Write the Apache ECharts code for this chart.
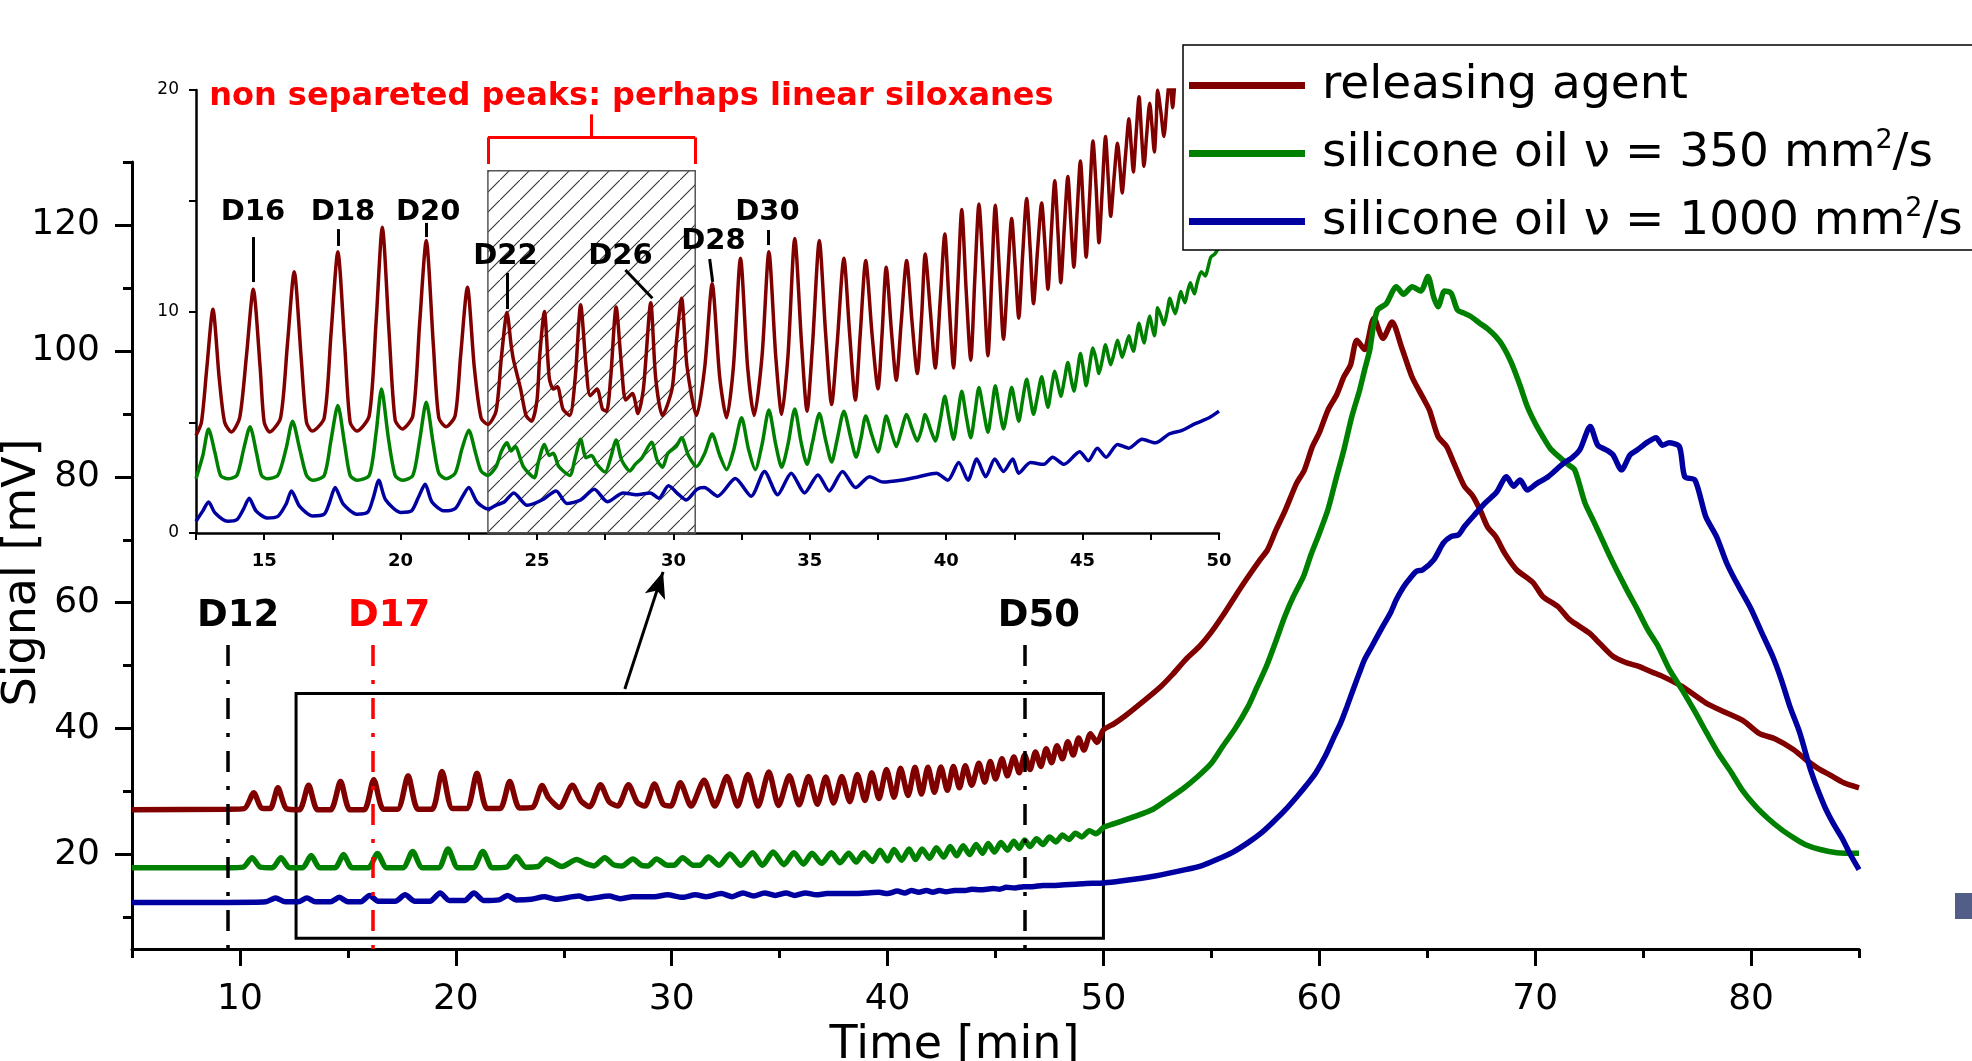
<!DOCTYPE html>
<html><head><meta charset="utf-8">
<script src="https://cdn.jsdelivr.net/npm/echarts@6/dist/echarts.min.js"></script>
<style>html,body{margin:0;padding:0;background:#fff;overflow:hidden}#c{width:1972px;height:1061px}</style>
</head><body><div id="c"></div>
<script>
// ---------------- data ----------------
const seriesNames = ['releasing agent', 'silicone oil ν = 350 mm²/s', 'silicone oil ν = 1000 mm²/s'];
const seriesColors = ['#800000', '#008000', '#0000a0'];

const mainXMajor = [10, 20, 30, 40, 50, 60, 70, 80];
const mainXMinor = [5, 15, 25, 35, 45, 55, 65, 75, 85];
const mainYMajor = [20, 40, 60, 80, 100, 120];
const mainYMinor = [10, 30, 50, 70, 90, 110, 130];
const insetXTicks = [12.5, 15, 17.5, 20, 22.5, 25, 27.5, 30, 32.5, 35, 37.5, 40, 42.5, 45, 47.5, 50];
const insetXLabels = [15, 20, 25, 30, 35, 40, 45, 50];
const insetYTicks = [0, 5, 10, 15, 20];
const insetYLabels = [0, 10, 20];

const mainRed = [[5,27.1],[9.4,27.2],[10.2,27.3],[10.64,29.8],[11.0,27.4],[11.4,27.3],[11.76,30.6],[12.15,27.3],[12.75,27.1],[13.18,31.0],[13.6,27.1],[14.2,27.1],[14.66,31.6],[15.1,27.1],[15.75,27.1],[16.2,31.9],[16.65,27.2],[17.3,27.2],[17.79,32.5],[18.25,27.2],[18.9,27.2],[19.36,33.2],[19.85,27.3],[20.5,27.3],[20.98,32.9],[21.45,27.3],[22.05,27.3],[22.5,31.6],[22.95,27.4],[23.55,27.5],[24.0,30.95],[24.3,29.0],[24.8,27.5],[25.4,31.0],[25.8,28.5],[26.2,27.6],[26.7,31.1],[27.1,28.4],[27.5,27.7],[28.0,31.1],[28.4,28.3],[28.75,27.7],[29.2,31.2],[29.6,28.0],[29.95,27.7],[30.4,31.4],[30.9,27.7],[31.5,31.8],[32.0,27.7],[32.56,32.4],[33.05,27.7],[33.53,32.7],[34.0,27.7],[34.5,33.1],[34.95,27.8],[35.45,32.5],[35.9,27.9],[36.34,32.4],[36.75,28.0],[37.14,32.3],[37.5,28.2],[37.88,32.4],[38.25,28.4],[38.6,32.7],[38.95,28.6],[39.27,33.0],[39.6,28.9],[39.95,33.5],[40.3,29.1],[40.6,33.7],[40.95,29.4],[41.27,33.86],[41.57,29.6],[41.87,33.86],[42.17,29.9],[42.47,33.9],[42.77,30.2],[43.05,34.0],[43.33,30.6],[43.6,34.1],[43.9,31.0],[44.23,34.5],[44.5,31.5],[44.76,34.8],[45.0,32.0],[45.3,35.2],[45.55,32.5],[45.85,35.5],[46.1,33.0],[46.35,35.8],[46.6,33.5],[46.85,36.3],[47.1,34.0],[47.35,36.8],[47.6,34.6],[47.85,37.3],[48.1,35.2],[48.35,37.9],[48.6,35.8],[48.85,38.5],[49.1,36.6],[49.4,39.2],[49.7,37.8],[50.0,39.8],
 [50.5,40.8],[51.0,42.0],[51.8,44.2],[52.66,46.7],[53.2,48.6],[53.82,51.0],[54.46,53.1],[54.97,55.2],[55.5,57.8],[56.1,61.0],[56.6,63.6],[57.25,66.8],[57.6,68.4],[58.0,71.6],[58.4,74.5],[58.95,79.0],[59.3,81.0],[59.68,84.8],[60.0,87.0],[60.4,90.6],[60.8,93.0],[61.14,95.9],[61.45,97.8],[61.74,101.7],[62.1,100.2],[62.53,105.2],[62.95,102.0],[63.37,104.6],[63.8,100.7],[64.29,95.9],[64.78,92.7],[65.1,90.6],[65.5,86.4],[65.9,84.8],[66.23,82.2],[66.72,78.5],[67.1,77.0],[67.44,74.8],[67.8,72.0],[68.17,70.5],[68.6,67.8],[69.15,65.2],[69.9,63.2],[70.35,61.0],[71.05,59.4],[71.6,57.3],[72.5,55.2],[73.0,53.5],[73.6,51.5],[74.2,50.5],[74.8,49.9],[75.4,49.0],[75.9,48.3],[76.8,46.7],[77.9,44.1],[78.8,42.6],[79.66,41.2],[80.4,39.2],[81.1,38.4],[81.96,36.7],[82.53,35.1],[83.1,33.7],[83.68,32.6],[84.3,31.4],[85,30.6]];

const mainGreen = [[5,17.9],[9.4,17.9],[10.15,18.0],[10.56,19.5],[10.95,18.0],[11.5,17.9],[11.9,19.5],[12.3,17.9],[12.9,17.9],[13.3,19.84],[13.7,17.9],[14.4,17.9],[14.8,20.0],[15.2,17.9],[15.95,17.9],[16.37,20.16],[16.8,17.9],[17.55,17.9],[18.0,20.5],[18.45,17.9],[19.2,17.9],[19.64,20.9],[20.1,17.9],[20.8,17.9],[21.25,20.5],[21.7,17.9],[22.35,18.0],[22.8,19.7],[23.25,18.0],[23.8,18.1],[24.2,19.3],[24.5,18.8],[24.9,18.1],[25.6,19.2],[26.0,18.6],[26.4,18.2],[26.9,19.5],[27.3,18.4],[27.7,18.2],[28.2,19.3],[28.6,18.3],[28.9,18.2],[29.3,19.3],[29.8,18.3],[30.1,18.3],[30.5,19.5],[31.0,18.3],[31.3,18.3],[31.7,19.6],[32.2,18.3],[32.7,20.1],[33.2,18.3],[33.75,20.3],[34.2,18.3],[34.7,20.4],[35.2,18.4],[35.66,20.3],[36.1,18.5],[36.5,20.2],[36.95,18.6],[37.4,20.3],[37.8,18.7],[38.2,20.2],[38.55,18.8],[38.9,20.3],[39.3,18.9],[39.65,20.7],[40.0,19.0],[40.3,20.8],[40.65,19.1],[41.0,20.9],[41.3,19.2],[41.6,20.9],[41.95,19.4],[42.26,21.1],[42.6,19.6],[42.9,21.3],[43.2,19.8],[43.5,21.4],[43.8,20.0],[44.1,21.6],[44.4,20.2],[44.66,21.75],[44.95,20.4],[45.25,21.9],[45.55,20.7],[45.85,22.1],[46.1,21.0],[46.35,22.3],[46.6,21.3],[46.9,22.5],[47.2,21.6],[47.5,22.8],[47.8,22.0],[48.1,23.1],[48.4,22.4],[48.7,23.4],[49.0,22.8],[49.35,23.8],[49.65,23.3],[50.0,24.3],
 [50.5,24.9],[51.5,26.1],[52.3,27.2],[52.95,28.7],[53.7,30.5],[54.37,32.4],[55.0,34.5],[55.53,37.2],[56.1,40.0],[56.7,43.5],[57.1,46.5],[57.55,49.9],[58.0,54.0],[58.4,57.8],[58.8,61.0],[59.27,64.2],[59.6,67.5],[60.0,71.0],[60.4,74.8],[60.8,80.0],[61.14,84.3],[61.5,89.5],[61.87,93.8],[62.1,97.0],[62.34,100.2],[62.5,103.8],[62.7,106.5],[63.1,107.5],[63.57,110.2],[63.9,109.0],[64.3,110.2],[64.7,109.5],[65.03,111.8],[65.3,108.5],[65.5,107.0],[65.8,109.5],[66.1,109.2],[66.4,106.5],[66.7,106.0],[67.0,105.5],[67.43,104.4],[67.8,103.5],[68.17,102.3],[68.5,100.8],[68.9,98.1],[69.3,94.5],[69.63,91.2],[70.0,88.5],[70.35,86.4],[70.7,84.5],[71.1,83.2],[71.5,82.0],[71.83,81.1],[72.3,75.9],[72.7,73.0],[73.04,70.5],[73.4,67.8],[73.77,65.2],[74.25,62.0],[74.74,58.9],[75.2,55.8],[75.7,53.05],[76.2,49.5],[76.8,46.2],[77.4,42.7],[77.93,39.4],[78.5,36.0],[79.09,33.0],[79.6,30.2],[80.2,27.7],[80.8,25.7],[81.4,24.0],[82.0,22.6],[82.5,21.6],[83.2,20.8],[83.97,20.3],[85,20.2]];

const mainBlue = [[5,12.4],[9.4,12.4],[11.2,12.5],[11.65,13.1],[12.1,12.5],[12.7,12.5],[13.1,13.1],[13.5,12.5],[14.2,12.5],[14.6,13.2],[15.0,12.5],[15.6,12.5],[16.0,13.5],[16.4,12.6],[17.2,12.6],[17.65,13.6],[18.1,12.6],[18.8,12.6],[19.27,13.9],[19.7,12.7],[20.4,12.7],[20.84,13.9],[21.3,12.7],[22.0,12.8],[22.4,13.5],[22.8,12.8],[23.5,12.9],[24.1,13.3],[24.6,12.9],[25.7,13.4],[26.1,13.0],[27.1,13.4],[27.6,13.0],[28.2,13.3],[29.2,13.3],[29.8,13.6],[30.5,13.2],[31.1,13.6],[31.6,13.3],[32.3,13.8],[32.8,13.3],[33.3,13.9],[33.8,13.4],[34.3,13.9],[34.8,13.5],[35.3,13.9],[35.7,13.5],[36.2,13.9],[36.7,13.6],[37.2,13.8],[38.3,13.8],[39.0,13.9],[39.6,14.0],[40.0,13.8],[40.45,14.2],[40.8,13.9],[41.1,14.3],[41.45,14.0],[41.8,14.3],[42.1,14.0],[42.4,14.3],[42.7,14.1],[43.1,14.3],[43.6,14.3],[43.9,14.5],[44.3,14.4],[44.9,14.6],[45.2,14.5],[45.5,14.8],[45.9,14.7],[46.3,14.9],[46.7,14.9],[47.2,15.1],[47.7,15.1],[48.2,15.2],[48.7,15.3],[49.2,15.4],[50,15.5],
 [50.8,15.8],[52.4,16.6],[53.8,17.6],[54.6,18.3],[55.25,19.2],[56.0,20.4],[56.7,21.9],[57.3,23.4],[57.84,25.1],[58.4,27.0],[58.99,29.3],[59.4,31.0],[59.84,33.0],[60.3,35.8],[60.7,38.8],[61.0,41.0],[61.28,43.5],[61.6,46.5],[61.86,48.9],[62.1,51.0],[62.43,53.05],[62.9,56.0],[63.3,58.4],[63.57,60.5],[63.9,62.5],[64.15,63.65],[64.5,65.0],[64.78,65.2],[65.3,66.8],[65.75,69.5],[66.1,70.5],[66.45,70.8],[66.72,72.1],[67.2,74.0],[67.7,75.9],[68.2,77.5],[68.67,80.0],[69.0,78.5],[69.3,79.5],[69.63,77.9],[70.1,79.0],[70.6,80.0],[71.0,81.2],[71.33,82.2],[71.7,83.0],[72.07,84.3],[72.55,88.0],[72.9,85.0],[73.28,84.3],[73.6,83.5],[74.0,81.1],[74.4,83.5],[74.74,84.3],[75.2,85.5],[75.6,86.2],[75.9,85.0],[76.2,85.4],[76.68,84.8],[76.93,80.0],[77.4,79.5],[77.9,73.7],[78.4,70.5],[78.87,66.3],[79.2,64.0],[79.6,61.5],[80.0,59.0],[80.5,55.2],[81.0,51.5],[81.4,47.8],[81.8,43.5],[82.25,39.4],[82.8,33.0],[83.4,27.7],[83.8,25.0],[84.25,22.4],[84.6,20.0],[85,17.6]];

const insetRed = [[12.5,4.4],[12.7,5.0],[12.9,7.5],[13.12,10.1],[13.35,7.0],[13.55,5.0],[13.8,4.56],[14.1,5.2],[14.35,8.0],[14.6,11.0],[14.85,7.5],[15.0,5.0],[15.2,4.56],[15.6,5.2],[15.85,8.5],[16.1,11.8],[16.35,8.0],[16.55,5.0],[16.76,4.6],[17.2,5.2],[17.45,9.0],[17.7,12.7],[17.95,8.5],[18.15,5.0],[18.4,4.6],[18.85,5.3],[19.1,9.5],[19.33,13.8],[19.58,9.0],[19.8,5.1],[20.06,4.7],[20.45,5.3],[20.7,9.5],[20.94,13.2],[21.2,8.5],[21.4,5.2],[21.67,4.8],[22.0,5.3],[22.2,8.0],[22.45,11.1],[22.7,7.5],[22.95,5.2],[23.2,4.9],[23.5,5.5],[23.7,8.0],[23.9,9.95],[24.05,8.5],[24.14,7.8],[24.4,6.5],[24.6,5.3],[24.8,5.05],[25.0,6.0],[25.1,8.0],[25.27,10.0],[25.45,7.0],[25.6,6.5],[25.75,6.6],[25.95,5.6],[26.2,5.3],[26.4,7.0],[26.6,10.3],[26.8,7.5],[26.95,6.2],[27.2,6.5],[27.4,5.6],[27.55,5.5],[27.7,7.0],[27.9,10.2],[28.1,7.5],[28.25,6.0],[28.5,6.3],[28.7,5.4],[28.9,6.5],[29.17,10.4],[29.35,7.0],[29.6,5.3],[29.95,6.5],[30.1,8.5],[30.3,10.6],[30.5,7.5],[30.85,5.3],[31.15,7.5],[31.42,11.25],[31.7,7.0],[31.95,5.2],[32.2,7.5],[32.46,12.4],[32.72,7.5],[32.96,5.3],[33.25,8.0],[33.5,12.7],[33.75,8.0],[33.97,5.35],[34.2,8.0],[34.45,13.3],[34.7,8.5],[34.9,5.5],[35.1,8.5],[35.35,13.2],[35.58,9.0],[35.8,5.8],[36.0,8.5],[36.25,12.4],[36.46,9.0],[36.67,6.0],[36.85,9.0],[37.05,12.3],[37.28,9.0],[37.5,6.5],[37.65,9.0],[37.8,12.0],[38.0,9.0],[38.17,6.9],[38.35,9.5],[38.55,12.3],[38.75,9.5],[38.94,7.2],[39.1,9.8],[39.23,12.6],[39.42,10.0],[39.6,7.45],[39.78,10.5],[39.95,13.5],[40.1,10.5],[40.27,7.45],[40.42,11.0],[40.57,14.6],[40.73,11.0],[40.9,7.8],[41.05,11.5],[41.2,14.85],[41.37,11.5],[41.53,8.0],[41.67,11.5],[41.8,14.8],[41.95,11.8],[42.1,8.75],[42.25,11.5],[42.4,14.2],[42.53,12.0],[42.66,9.7],[42.8,12.5],[42.95,15.1],[43.08,12.8],[43.2,10.35],[43.35,12.8],[43.5,14.9],[43.62,13.0],[43.73,11.0],[43.85,13.5],[43.98,15.9],[44.1,13.5],[44.2,11.3],[44.33,13.8],[44.46,16.1],[44.57,14.0],[44.68,12.0],[44.8,14.5],[44.92,16.8],[45.03,14.6],[45.13,12.45],[45.25,15.0],[45.38,17.7],[45.5,15.5],[45.6,13.1],[45.72,15.5],[45.84,17.9],[45.94,16.0],[46.03,14.3],[46.15,16.0],[46.28,17.6],[46.37,16.5],[46.45,15.35],[46.57,17.0],[46.7,18.7],[46.78,17.5],[46.86,16.3],[46.96,18.0],[47.07,19.7],[47.16,18.0],[47.25,16.55],[47.35,18.0],[47.46,19.4],[47.55,18.3],[47.63,17.2],[47.7,18.6],[47.75,20.0],[47.87,19.0],[47.98,17.9],[48.1,19.5],[48.2,20.6],[48.3,19.2],[48.4,20.5],[48.6,21.5],[49.0,22.5]];

const insetGreen = [[12.5,2.45],[12.75,3.5],[12.96,4.7],[13.2,3.6],[13.4,2.6],[13.66,2.45],[14.0,2.6],[14.25,3.8],[14.48,4.8],[14.72,3.6],[14.9,2.6],[15.1,2.45],[15.5,2.6],[15.8,3.8],[16.04,5.05],[16.3,3.8],[16.55,2.6],[16.78,2.38],[17.2,2.6],[17.45,4.2],[17.7,5.76],[17.95,4.0],[18.15,2.6],[18.4,2.38],[18.85,2.6],[19.1,4.5],[19.3,6.5],[19.55,4.3],[19.8,2.6],[20.06,2.38],[20.45,2.6],[20.7,4.2],[20.94,5.9],[21.2,4.0],[21.4,2.7],[21.67,2.45],[22.0,2.7],[22.25,3.8],[22.5,4.64],[22.75,3.6],[22.95,2.8],[23.2,2.6],[23.5,3.0],[23.7,3.7],[23.9,4.07],[24.05,3.7],[24.2,3.9],[24.5,3.0],[24.9,2.5],[25.05,3.2],[25.27,4.0],[25.45,3.5],[25.6,3.6],[25.8,3.0],[26.2,2.6],[26.4,3.4],[26.6,4.23],[26.8,3.4],[27.0,3.5],[27.2,3.1],[27.5,2.75],[27.7,3.4],[27.9,4.2],[28.1,3.3],[28.4,2.8],[28.6,3.1],[28.85,3.4],[29.2,4.1],[29.4,3.3],[29.6,2.97],[29.8,3.6],[30.1,3.9],[30.3,4.3],[30.55,3.5],[30.85,3.0],[31.15,3.6],[31.42,4.47],[31.7,3.5],[31.95,2.86],[32.2,3.7],[32.5,5.2],[32.75,3.8],[33.0,2.86],[33.25,4.0],[33.5,5.55],[33.75,4.0],[33.97,2.97],[34.2,4.0],[34.45,5.6],[34.68,4.1],[34.9,3.1],[35.1,4.1],[35.35,5.4],[35.58,4.2],[35.8,3.2],[36.0,4.2],[36.25,5.5],[36.5,4.3],[36.7,3.43],[36.88,4.3],[37.05,5.28],[37.28,4.4],[37.5,3.66],[37.65,4.4],[37.8,5.28],[38.0,4.5],[38.17,3.9],[38.35,4.6],[38.55,5.35],[38.75,4.7],[38.94,4.15],[39.1,4.7],[39.23,5.35],[39.42,4.7],[39.6,4.15],[39.78,5.1],[39.95,6.17],[40.1,5.2],[40.27,4.23],[40.42,5.3],[40.57,6.4],[40.73,5.3],[40.9,4.3],[41.05,5.4],[41.2,6.57],[41.37,5.5],[41.53,4.55],[41.67,5.6],[41.8,6.65],[41.95,5.6],[42.1,4.7],[42.25,5.6],[42.4,6.57],[42.53,5.8],[42.66,5.05],[42.8,6.0],[42.95,6.94],[43.08,6.1],[43.2,5.36],[43.35,6.2],[43.5,7.05],[43.62,6.3],[43.73,5.68],[43.85,6.5],[43.98,7.3],[44.1,6.7],[44.2,6.17],[44.33,6.9],[44.46,7.7],[44.57,7.0],[44.68,6.4],[44.8,7.2],[44.92,8.1],[45.03,7.4],[45.13,6.65],[45.25,7.5],[45.38,8.35],[45.5,7.8],[45.6,7.2],[45.72,7.8],[45.84,8.5],[45.94,8.0],[46.03,7.6],[46.15,8.1],[46.28,8.7],[46.37,8.3],[46.45,7.94],[46.57,8.4],[46.7,8.9],[46.78,8.5],[46.86,8.2],[46.96,8.8],[47.07,9.47],[47.16,9.0],[47.25,8.58],[47.35,9.2],[47.46,9.8],[47.55,9.3],[47.63,8.9],[47.7,9.5],[47.75,10.17],[47.87,9.8],[47.98,9.4],[48.1,10.0],[48.2,10.6],[48.3,10.2],[48.4,9.9],[48.5,10.4],[48.6,10.9],[48.68,10.6],[48.75,10.4],[48.85,10.9],[48.95,11.3],[49.03,11.0],[49.1,10.8],[49.2,11.3],[49.35,11.8],[49.43,11.7],[49.5,11.6],[49.6,12.0],[49.7,12.45],[49.85,12.6],[49.97,12.85]];

const insetBlue = [[12.5,0.53],[12.75,1.0],[12.96,1.4],[13.2,0.9],[13.66,0.53],[14.0,0.6],[14.25,1.1],[14.45,1.57],[14.7,1.0],[15.1,0.68],[15.5,0.75],[15.8,1.3],[16.0,1.9],[16.3,1.2],[16.78,0.77],[17.2,0.85],[17.4,1.4],[17.6,2.05],[17.9,1.3],[18.4,0.85],[18.8,0.95],[19.0,1.6],[19.2,2.38],[19.45,1.5],[20.0,0.93],[20.4,1.0],[20.65,1.6],[20.9,2.2],[21.15,1.4],[21.6,1.0],[22.0,1.1],[22.25,1.6],[22.5,2.05],[22.8,1.4],[23.2,1.08],[23.49,1.25],[23.8,1.4],[24.15,1.81],[24.64,1.25],[25.2,1.5],[25.7,1.9],[26.1,1.33],[26.6,1.49],[27.1,1.97],[27.58,1.41],[28.16,1.81],[28.65,1.73],[29.15,1.81],[29.47,1.57],[29.82,2.13],[30.2,1.73],[30.47,1.49],[30.86,1.97],[31.13,2.05],[31.62,1.66],[32.27,2.46],[32.85,1.66],[33.34,2.78],[33.82,1.73],[34.32,2.7],[34.81,1.81],[35.3,2.62],[35.71,1.9],[36.2,2.78],[36.68,2.05],[37.19,2.54],[37.68,2.3],[38.33,2.38],[38.99,2.54],[39.64,2.7],[40.06,2.38],[40.46,3.18],[40.8,2.38],[41.12,3.34],[41.45,2.54],[41.78,3.34],[42.1,2.78],[42.44,3.34],[42.66,2.7],[43.09,3.18],[43.58,3.1],[43.9,3.42],[44.32,3.1],[44.89,3.67],[45.21,3.26],[45.54,3.83],[45.86,3.42],[46.28,4.0],[46.69,3.83],[47.18,4.23],[47.67,4.07],[48.17,4.47],[48.65,4.63],[49.15,4.95],[49.64,5.2],[50.0,5.5]];

// homologue markers on the main chart (retention time, minutes)
const mainMarkers = [
  { name: 'D12', x: 9.45, color: '#000000', dx: 10 },
  { name: 'D17', x: 16.17, color: '#ff0000', dx: 16 },
  { name: 'D50', x: 46.36, color: '#000000', dx: 14 }
];
// peak labels in the inset: label anchor and leader line ends (inset coordinates)
const insetTags = [
  { name: 'D16', at: [14.59, 14.45], from: [14.6, 13.36], to: [14.6, 11.33] },
  { name: 'D18', at: [17.89, 14.45], from: [17.71, 13.72], to: [17.71, 12.96] },
  { name: 'D20', at: [21.01, 14.45], from: [20.94, 14.0], to: [20.94, 13.36] },
  { name: 'D22', at: [23.84, 12.5], from: [23.91, 11.74], to: [23.91, 10.11] },
  { name: 'D26', at: [28.06, 12.5], from: [28.24, 11.87], to: [29.23, 10.6] },
  { name: 'D28', at: [31.47, 13.18], from: [31.33, 12.37], to: [31.44, 11.33] },
  { name: 'D30', at: [33.45, 14.45], from: [33.49, 13.68], to: [33.49, 13.0] },
  { name: 'D50', at: [46.11, 20.86], from: [46.04, 20.1], to: [46.28, 17.6] }
];
const hatchRange = { x0: 23.2, x1: 30.8, y0: 0, y1: 16.36 };
const bracket = { x0: 23.2, x1: 30.8, yLow: 16.66, y: 17.86, yTop: 18.9 };
const caption = { text: 'non separeted peaks: perhaps linear siloxanes', at: [28.46, 19.68] };
const zoomBox = { x0: 12.6, y0: 6.7, x1: 50, y1: 45.6 };
const arrow = { from: [27.83, 46.3], to: [29.6, 64.9] };

// ---------------- chart ----------------
const FONT = 'DejaVu Sans';
const hatch = document.createElement('canvas');
hatch.width = 20; hatch.height = 20;
(function () {
  const g = hatch.getContext('2d');
  g.strokeStyle = '#333'; g.lineWidth = 1.1;
  g.beginPath(); g.moveTo(-2, 22); g.lineTo(22, -2); g.stroke();
})();

const chart = echarts.init(document.getElementById('c'), null, { renderer: 'canvas' });

function legendFmt(name) {
  const i = name.indexOf('²');
  if (i < 0) return '{t|' + name + '}';
  return '{t|' + name.slice(0, i) + '}{s|2}{t|' + name.slice(i + 1) + '}';
}

const axisBlack = { color: '#000', width: 3 };

const option = {
  animation: false,
  backgroundColor: '#fff',
  legend: {
    data: seriesNames.map(n => ({ name: n, icon: 'rect' })),
    orient: 'vertical',
    left: 1183, top: 45,
    padding: [17, 60, 5, 6],
    itemGap: 18.5,
    itemWidth: 116, itemHeight: 7,
    borderColor: '#000', borderWidth: 1.5, borderRadius: 0,
    backgroundColor: '#fff',
    selectedMode: false,
    formatter: legendFmt,
    textStyle: {
      padding: [0, 0, 0, 12],
      rich: {
        t: { fontFamily: FONT, fontSize: 47, lineHeight: 52, color: '#000' },
        s: { fontFamily: FONT, fontSize: 27, lineHeight: 27, verticalAlign: 'top', color: '#000' }
      }
    }
  },
  grid: [
    { left: 132, top: 162, width: 1727, height: 787, outerBoundsMode: 'none', containLabel: false },
    { left: 196, top: 90, width: 1023, height: 443, outerBoundsMode: 'none', containLabel: false }
  ],
  xAxis: [
    {
      type: 'value', gridIndex: 0, min: 5, max: 85, position: 'bottom',
      name: 'Time [min]', nameLocation: 'middle', nameGap: 65,
      nameTextStyle: { fontFamily: FONT, fontSize: 46, color: '#000', padding: [0, 82, 0, 0] },
      axisLine: { show: true, onZero: false, lineStyle: axisBlack },
      axisTick: { show: true, customValues: mainXMajor, length: 17, inside: false, lineStyle: { color: '#000', width: 3 } },
      axisLabel: { show: true, customValues: mainXMajor, margin: 33, fontFamily: FONT, fontSize: 36, color: '#000' },
      splitLine: { show: false }
    },
    {
      type: 'value', gridIndex: 0, min: 5, max: 85, position: 'bottom',
      axisLine: { show: false },
      axisTick: { show: true, customValues: mainXMinor, length: 9, lineStyle: { color: '#000', width: 3 } },
      axisLabel: { show: false }, splitLine: { show: false }
    },
    {
      type: 'value', gridIndex: 1, min: 12.5, max: 50, position: 'bottom',
      axisLine: { show: true, onZero: false, lineStyle: { color: '#000', width: 2.5 } },
      axisTick: { show: true, customValues: insetXTicks, length: 7, lineStyle: { color: '#000', width: 2 } },
      axisLabel: { show: true, customValues: insetXLabels, margin: 19, fontFamily: FONT, fontWeight: 'bold', fontSize: 18, color: '#000' },
      splitLine: { show: false }
    }
  ],
  yAxis: [
    {
      type: 'value', gridIndex: 0, min: 5, max: 130, position: 'left',
      name: 'Signal [mV]', nameLocation: 'middle', nameGap: 86, nameRotate: 90,
      nameMoveOverlap: false,
      nameTextStyle: { fontFamily: FONT, fontSize: 46, color: '#000', padding: [0, 34, 0, 0] },
      axisLine: { show: true, onZero: false, lineStyle: axisBlack },
      axisTick: { show: true, customValues: mainYMajor, length: 17, lineStyle: { color: '#000', width: 3 } },
      axisLabel: { show: true, customValues: mainYMajor, margin: 32, fontFamily: FONT, fontSize: 36, color: '#000' },
      splitLine: { show: false }
    },
    {
      type: 'value', gridIndex: 0, min: 5, max: 130, position: 'left',
      axisLine: { show: false },
      axisTick: { show: true, customValues: mainYMinor, length: 9, lineStyle: { color: '#000', width: 3 } },
      axisLabel: { show: false }, splitLine: { show: false }
    },
    {
      type: 'value', gridIndex: 1, min: 0, max: 20, position: 'left',
      axisLine: { show: true, onZero: false, lineStyle: { color: '#000', width: 2.5 } },
      axisTick: { show: true, customValues: insetYTicks, length: 7, lineStyle: { color: '#000', width: 2 } },
      axisLabel: { show: true, customValues: insetYLabels, margin: 17, fontFamily: FONT, fontSize: 17, color: '#000' },
      splitLine: { show: false }
    }
  ],
  graphic: [
    { type: 'rect', left: 1955, top: 893, shape: { width: 20, height: 26 }, style: { fill: '#535e88' }, silent: true }
  ],
  series: []
};

const mainData = [mainRed, mainGreen, mainBlue];
const insetData = [insetRed, insetGreen, insetBlue];

// hatched region in the inset (drawn first, beneath curves)
option.series.push({
  type: 'line', xAxisIndex: 2, yAxisIndex: 2, data: [], silent: true, z: 1,
  markArea: {
    silent: true,
    itemStyle: { color: { image: hatch, repeat: 'repeat' }, borderColor: '#555', borderWidth: 1.5 },
    label: { show: false },
    data: [[{ coord: [hatchRange.x0, hatchRange.y0] }, { coord: [hatchRange.x1, hatchRange.y1] }]]
  }
});

mainData.forEach((d, i) => {
  option.series.push({
    name: seriesNames[i], type: 'line', xAxisIndex: 0, yAxisIndex: 0, data: d,
    showSymbol: false, symbol: 'none', smooth: 0.25, silent: true, z: 2,
    lineStyle: { color: seriesColors[i], width: 5.5 }, itemStyle: { color: seriesColors[i] }
  });
});
insetData.forEach((d, i) => {
  option.series.push({
    name: seriesNames[i], type: 'line', xAxisIndex: 2, yAxisIndex: 2, data: d,
    showSymbol: false, symbol: 'none', smooth: 0.25, silent: true, z: 2, clip: true,
    lineStyle: { color: seriesColors[i], width: 3.5 }, itemStyle: { color: seriesColors[i] }
  });
});

// main chart annotations
option.series.push({
  type: 'line', xAxisIndex: 0, yAxisIndex: 0, data: [], silent: true, z: 3,
  markLine: {
    silent: true, symbol: ['none', 'none'], animation: false,
    data: mainMarkers.map(m => [
      { coord: [m.x, 5], lineStyle: { color: m.color, width: 3.5, type: [4, 14, 21, 14] },
        label: { show: true, position: 'end', distance: 2, formatter: m.name, color: m.color,
                 fontFamily: FONT, fontWeight: 'bold', fontSize: 37, offset: [m.dx, 0] } },
      { coord: [m.x, 54.6] }
    ]).concat([[
      { coord: arrow.from, symbol: 'none', lineStyle: { color: '#000', width: 3, type: 'solid' }, label: { show: false } },
      { coord: arrow.to, symbol: 'arrow', symbolSize: [16, 26] }
    ]])
  },
  markArea: {
    silent: true,
    itemStyle: { color: 'rgba(0,0,0,0)', borderColor: '#000', borderWidth: 3 },
    label: { show: false },
    data: [[{ coord: [zoomBox.x0, zoomBox.y0] }, { coord: [zoomBox.x1, zoomBox.y1] }]]
  }
});

// inset annotations
const brSegs = [
  [[bracket.x0, bracket.yLow], [bracket.x0, bracket.y]],
  [[bracket.x0, bracket.y], [bracket.x1, bracket.y]],
  [[bracket.x1, bracket.y], [bracket.x1, bracket.yLow]],
  [[(bracket.x0 + bracket.x1) / 2, bracket.y], [(bracket.x0 + bracket.x1) / 2, bracket.yTop]]
];
option.series.push({
  type: 'line', xAxisIndex: 2, yAxisIndex: 2, data: [], silent: true, z: 4, clip: false,
  markLine: {
    silent: true, symbol: ['none', 'none'], animation: false,
    data: insetTags.map(t => [
      { coord: t.from, lineStyle: { color: '#000', width: 3, type: 'solid' }, label: { show: false } },
      { coord: t.to }
    ]).concat(brSegs.map(s => [
      { coord: s[0], lineStyle: { color: '#ff0000', width: 3, type: 'solid' }, label: { show: false } },
      { coord: s[1] }
    ]))
  },
  markPoint: {
    silent: true, animation: false,
    data: insetTags.map(t => ({
      coord: t.at, symbol: 'rect', symbolSize: 1, itemStyle: { color: 'rgba(0,0,0,0)' },
      label: { show: true, position: 'inside', formatter: t.name, color: '#000',
               fontFamily: FONT, fontWeight: 'bold', fontSize: 29 }
    })).concat([{
      coord: caption.at, symbol: 'rect', symbolSize: 1, itemStyle: { color: 'rgba(0,0,0,0)' },
      label: { show: true, position: 'inside', formatter: caption.text, color: '#ff0000',
               fontFamily: FONT, fontWeight: 'bold', fontSize: 32 }
    }])
  }
});

chart.setOption(option);
</script>
</body></html>
